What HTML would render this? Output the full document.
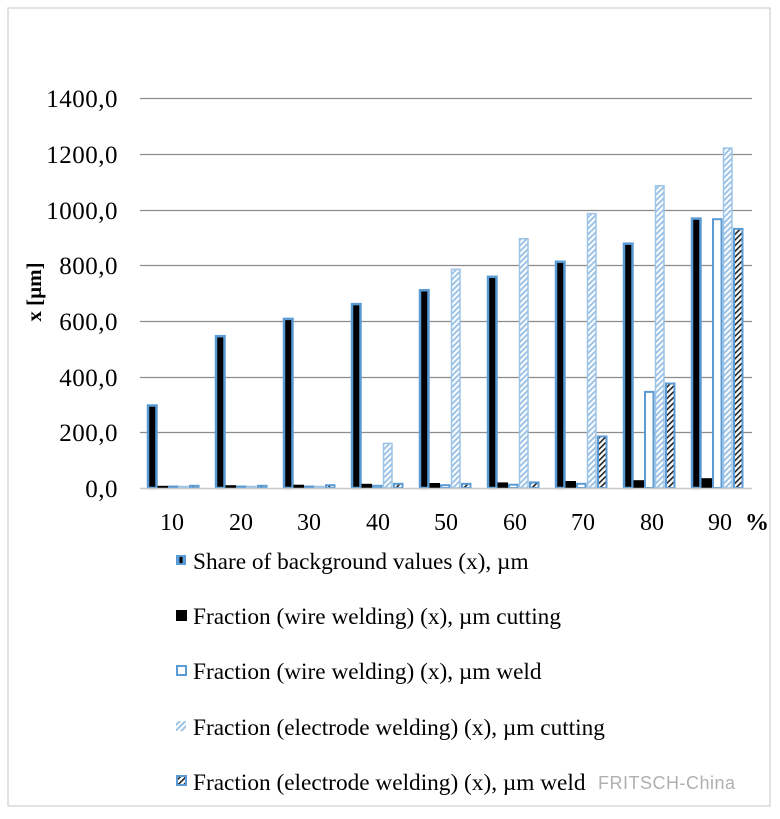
<!DOCTYPE html>
<html><head><meta charset="utf-8"><style>
body{margin:0;background:#fff;width:780px;height:814px;overflow:hidden}
.a{fill:#000;stroke:#5b9bd5;stroke-width:2.5}
.b{fill:#000}
.c{fill:#fff;stroke:#5b9bd5;stroke-width:2}
.d{fill:url(#h1);stroke:#9dc3e6;stroke-width:1.5}
.e{fill:url(#h2);stroke:#5b9bd5;stroke-width:2}
</style></head><body>
<svg width="780" height="814" xmlns="http://www.w3.org/2000/svg" font-family="Liberation Serif, serif">
<defs>
<pattern id="h1" width="4" height="4" patternUnits="userSpaceOnUse" patternTransform="rotate(45)">
<rect width="4" height="4" fill="#fff"/><rect width="2" height="4" fill="#9dc3e6"/></pattern>
<pattern id="h2" width="4" height="4" patternUnits="userSpaceOnUse" patternTransform="rotate(45)">
<rect width="4" height="4" fill="#fff"/><rect width="1.6" height="4" fill="#222"/></pattern>
</defs>
<rect x="8" y="8" width="762" height="798" fill="#fff" stroke="#d9d9d9" stroke-width="1.5"/>
<g stroke="#8c8c8c" stroke-width="1.2">
<line x1="140" y1="98.5" x2="752" y2="98.5"/><line x1="140" y1="154.5" x2="752" y2="154.5"/>
<line x1="140" y1="210.5" x2="752" y2="210.5"/><line x1="140" y1="265.5" x2="752" y2="265.5"/>
<line x1="140" y1="321.5" x2="752" y2="321.5"/><line x1="140" y1="377.5" x2="752" y2="377.5"/>
<line x1="140" y1="432.5" x2="752" y2="432.5"/>
</g>
<g font-size="25" text-anchor="end" fill="#000" letter-spacing="0.5">
<text x="118" y="107">1400,0</text><text x="118" y="163">1200,0</text><text x="118" y="219">1000,0</text>
<text x="118" y="274">800,0</text><text x="118" y="330">600,0</text><text x="118" y="386">400,0</text>
<text x="118" y="441">200,0</text><text x="118" y="497">0,0</text>
</g>
<text transform="translate(41,292) rotate(-90)" font-size="21" font-weight="bold" text-anchor="middle">x [µm]</text>

<g transform="translate(147,0)">
<rect class="a" x="1" y="405.5" width="8.5" height="82.5"/><rect class="b" x="10.5" y="485.8" width="10.5" height="2.2"/>
<rect class="c" x="22" y="486.5" width="8.5" height="1.5"/><rect class="d" x="32.5" y="486.5" width="8.5" height="1.5"/>
<rect class="e" x="43" y="485.8" width="8.5" height="2.2"/></g>
<g transform="translate(215,0)">
<rect class="a" x="1" y="336.2" width="8.5" height="151.8"/><rect class="b" x="10.5" y="485.2" width="10.5" height="2.8"/>
<rect class="c" x="22" y="486.5" width="8.5" height="1.5"/><rect class="d" x="32.5" y="486.5" width="8.5" height="1.5"/>
<rect class="e" x="43" y="485.8" width="8.5" height="2.2"/></g>
<g transform="translate(283,0)">
<rect class="a" x="1" y="318.9" width="8.5" height="169.1"/><rect class="b" x="10.5" y="484.7" width="10.5" height="3.3"/>
<rect class="c" x="22" y="486.5" width="8.5" height="1.5"/><rect class="d" x="32.5" y="486.5" width="8.5" height="1.5"/>
<rect class="e" x="43" y="485.2" width="8.5" height="2.8"/></g>
<g transform="translate(351,0)">
<rect class="a" x="1" y="304.1" width="8.5" height="183.9"/><rect class="b" x="10.5" y="483.8" width="10.5" height="4.2"/>
<rect class="c" x="22" y="485.8" width="8.5" height="2.2"/><rect class="d" x="32.5" y="443.4" width="8.5" height="44.6"/>
<rect class="e" x="43" y="483.8" width="8.5" height="4.2"/></g>
<g transform="translate(419,0)">
<rect class="a" x="1" y="290.2" width="8.5" height="197.8"/><rect class="b" x="10.5" y="483" width="10.5" height="5"/>
<rect class="c" x="22" y="485.2" width="8.5" height="2.8"/><rect class="d" x="32.5" y="269.3" width="8.5" height="218.7"/>
<rect class="e" x="43" y="483.8" width="8.5" height="4.2"/></g>
<g transform="translate(487,0)">
<rect class="a" x="1" y="276.8" width="8.5" height="211.2"/><rect class="b" x="10.5" y="482.4" width="10.5" height="5.6"/>
<rect class="c" x="22" y="484.7" width="8.5" height="3.3"/><rect class="d" x="32.5" y="238.7" width="8.5" height="249.3"/>
<rect class="e" x="43" y="482.4" width="8.5" height="5.6"/></g>
<g transform="translate(555,0)">
<rect class="a" x="1" y="261.8" width="8.5" height="226.2"/><rect class="b" x="10.5" y="481" width="10.5" height="7"/>
<rect class="c" x="22" y="483.8" width="8.5" height="4.2"/><rect class="d" x="32.5" y="213.6" width="8.5" height="274.4"/>
<rect class="e" x="43" y="436.5" width="8.5" height="51.5"/></g>
<g transform="translate(623,0)">
<rect class="a" x="1" y="243.7" width="8.5" height="244.3"/><rect class="b" x="10.5" y="480.2" width="10.5" height="7.8"/>
<rect class="c" x="22" y="391.9" width="8.5" height="96.1"/><rect class="d" x="32.5" y="185.7" width="8.5" height="302.3"/>
<rect class="e" x="43" y="383.5" width="8.5" height="104.5"/></g>
<g transform="translate(691,0)">
<rect class="a" x="1" y="218.6" width="8.5" height="269.4"/><rect class="b" x="10.5" y="478.2" width="10.5" height="9.8"/>
<rect class="c" x="22" y="219.2" width="8.5" height="268.8"/><rect class="d" x="32.5" y="148.1" width="8.5" height="339.9"/>
<rect class="e" x="43" y="228.9" width="8.5" height="259.1"/></g>

<line x1="140" y1="488.5" x2="752" y2="488.5" stroke="#c8c8c8" stroke-width="1.5"/>
<g font-size="24" text-anchor="middle">
<text x="172" y="530">10</text><text x="241" y="530">20</text><text x="309" y="530">30</text>
<text x="378" y="530">40</text><text x="446" y="530">50</text><text x="515" y="530">60</text>
<text x="583" y="530">70</text><text x="652" y="530">80</text><text x="720" y="530">90</text>
<text x="757" y="530" font-weight="bold">%</text>
</g>
<g font-size="23.3">
<rect x="176" y="555" width="10" height="10" fill="#5b9bd5"/><rect x="179.5" y="557" width="3" height="6" fill="#000"/>
<text x="193" y="569">Share of background values (x), µm</text>
<rect x="176" y="610" width="11" height="11" fill="#000"/>
<text x="193" y="624">Fraction (wire welding) (x), µm cutting</text>
<rect x="177" y="666" width="9" height="9" fill="#fff" stroke="#5b9bd5" stroke-width="2"/>
<text x="193" y="679">Fraction (wire welding) (x), µm weld</text>
<rect x="176" y="721" width="10" height="10" fill="url(#h1)"/>
<text x="193" y="735">Fraction (electrode welding) (x), µm cutting</text>
<rect x="177" y="776" width="9" height="9" fill="url(#h2)" stroke="#5b9bd5" stroke-width="2"/>
<text x="193" y="790">Fraction (electrode welding) (x), µm weld</text>
</g>
<text x="598" y="789" font-family="Liberation Sans, sans-serif" font-size="18" fill="#b0b0b0" letter-spacing="0.5">FRITSCH-China</text>
</svg>
</body></html>
